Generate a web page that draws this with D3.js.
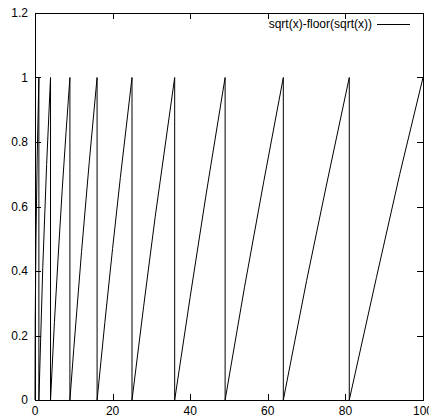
<!DOCTYPE html>
<meta charset="utf-8" />
<style>
  body { margin: 0; background: #fff; }
  text { font-family: "Liberation Sans", Arial, sans-serif; font-size: 12px; fill: #000; }
</style>
<body>
  <div id="grafico"></div>
  <script src="https://cdn.jsdelivr.net/npm/d3@7"></script>
  <script>
    // pontos (x, y)
    var xs = [0, 0.06, 0.25, 0.56, 1, 1,
      2, 3, 4, 4,
      5, 6, 7, 8, 9, 9,
      10, 12, 14, 16, 16,
      18, 20, 22, 25, 25,
      28, 31, 36, 36,
      40, 44, 49, 49,
      54, 59, 64, 64,
      70, 75, 81, 81,
      88, 94, 100];
    var ys = [0, 0.25, 0.5, 0.75, 1, 0,
      0.41, 0.73, 1, 0,
      0.24, 0.45, 0.65, 0.83, 1, 0,
      0.16, 0.46, 0.74, 1, 0,
      0.24, 0.47, 0.69, 1, 0,
      0.29, 0.57, 1, 0,
      0.32, 0.63, 1, 0,
      0.35, 0.68, 1, 0,
      0.37, 0.66, 1, 0,
      0.38, 0.70, 1];
    var xTicks = [0, 20, 40, 60, 80, 100];
    var yTicks = [0, 0.2, 0.4, 0.6, 0.8, 1, 1.2];
    var legenda = "sqrt(x)-floor(sqrt(x))";

    var largura = 429, altura = 417;
    var esq = 35, dir = 423, topo = 13, base = 400;

    var svg = d3.select("#grafico").append("svg")
      .attr("width", largura)
      .attr("height", altura);

    var x = d3.scaleLinear().domain([0, 100]).range([esq, dir]);
    var y = d3.scaleLinear().domain([0, 1.2]).range([base, topo]);

    var tam = 6;
    // ticks internos (espelhados)
    var g = svg.append("g").attr("stroke", "#000").attr("stroke-width", 1);
    xTicks.forEach(function (t) {
      var px = Math.round(x(t)) + 0.5;
      g.append("line").attr("x1", px).attr("x2", px).attr("y1", base).attr("y2", base - tam);
      g.append("line").attr("x1", px).attr("x2", px).attr("y1", topo).attr("y2", topo + tam);
    });
    yTicks.forEach(function (t) {
      var py = Math.round(y(t)) + 0.5;
      g.append("line").attr("x1", esq).attr("x2", esq + tam).attr("y1", py).attr("y2", py);
      g.append("line").attr("x1", dir).attr("x2", dir - tam).attr("y1", py).attr("y2", py);
    });

    svg.selectAll(".xl").data(xTicks).enter().append("text")
      .attr("x", function (d) { return x(d); })
      .attr("y", base + 11)
      .attr("dy", "0.35em")
      .attr("text-anchor", "middle")
      .text(function (d) { return d; });

    svg.selectAll(".yl").data(yTicks).enter().append("text")
      .attr("x", esq - 7)
      .attr("y", function (d) { return y(d); })
      .attr("dy", "0.35em")
      .attr("text-anchor", "end")
      .text(function (d) { return d; });

    // curva
    var linha = d3.line()
      .x(function (d) { return x(d[0]); })
      .y(function (d) { return y(d[1]); });
    svg.append("path")
      .datum(d3.zip(xs, ys))
      .attr("d", linha)
      .attr("fill", "none")
      .attr("stroke", "#000")
      .attr("stroke-width", 1);

    // legenda
    svg.append("text")
      .attr("x", 372)
      .attr("y", 24)
      .attr("dy", "0.35em")
      .attr("text-anchor", "end")
      .text(legenda);
    svg.append("line")
      .attr("x1", 377).attr("x2", 410)
      .attr("y1", 24.5).attr("y2", 24.5)
      .attr("stroke", "#000");

    // moldura
    svg.append("rect")
      .attr("x", esq + 0.5).attr("y", topo + 0.5)
      .attr("width", dir - esq).attr("height", base - topo)
      .attr("fill", "none")
      .attr("stroke", "#000");
  </script>
</body>
